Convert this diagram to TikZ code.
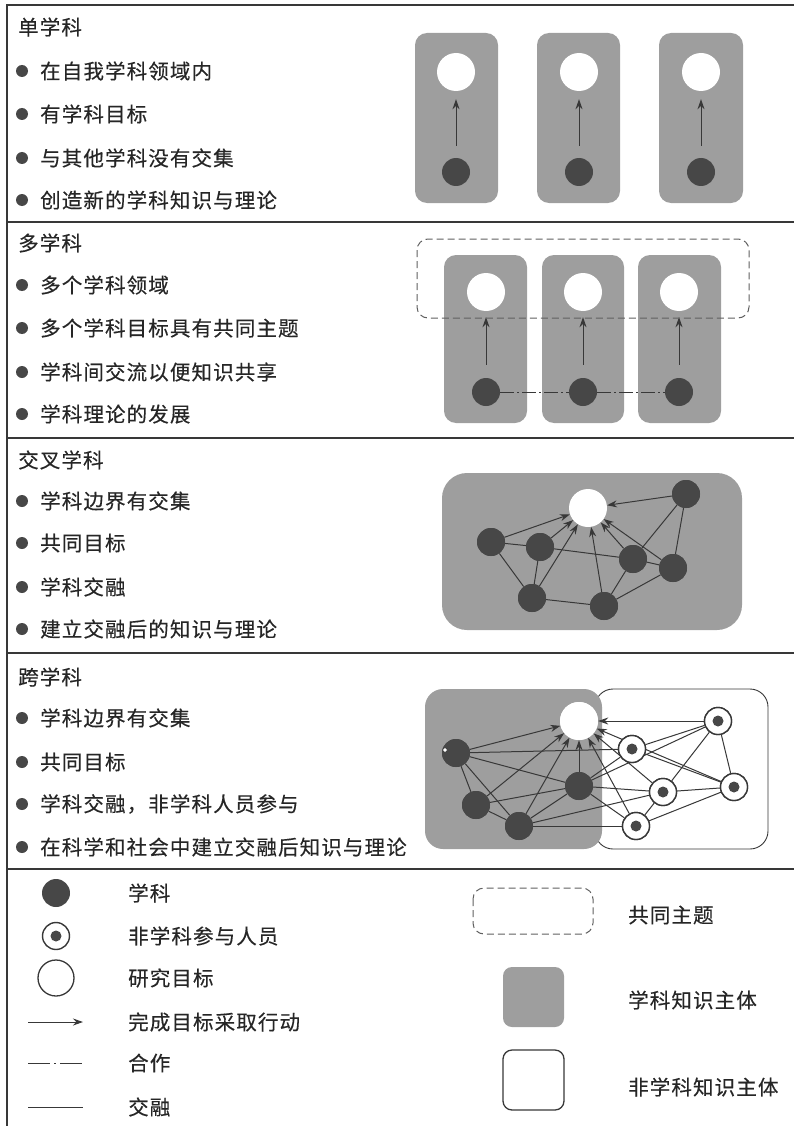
\documentclass[tikz,border=0pt]{standalone}
\usepackage{fontspec}
\setmainfont{Noto Sans CJK SC}
\newfontfamily\cjk[LetterSpace=5.5,FakeBold=0.35]{Noto Sans CJK SC}
\usetikzlibrary{arrows.meta}
\definecolor{gfill}{gray}{0.62}
\definecolor{dk}{gray}{0.28}
\definecolor{ln}{gray}{0.22}
\definecolor{tx}{gray}{0.15}
\begin{document}
\begin{tikzpicture}[x=1pt,y=-1pt,
  txt/.style={anchor=west,inner sep=0pt,text=tx,font=\cjk\fontsize{20.5}{24}\selectfont},
  bul/.style={circle,fill=dk,inner sep=0pt,minimum size=12pt},
  goal/.style={circle,fill=white,inner sep=0pt,minimum size=38pt},
  disc/.style={circle,fill=dk,inner sep=0pt,minimum size=28pt},
  part/.style={circle,fill=white,draw=ln,line width=1.4pt,inner sep=0pt,minimum size=27pt,
    path picture={\fill[dk] (path picture bounding box.center) circle (5.5pt);}},
  arr/.style={draw=ln,line width=1pt,-{Stealth[length=10pt,width=7pt]}},
  lnk/.style={draw=ln,line width=1pt},
  frame/.style={draw=ln,line width=1.8pt},
  gbox/.style={fill=gfill,rounded corners=12pt},
  cdash/.style={draw=ln,line width=1pt,dash pattern=on 14pt off 3pt on 2pt off 3pt},
  tbox/.style={draw=ln!80,line width=1pt,dash pattern=on 7pt off 4pt,rounded corners=11pt}
]
\useasboundingbox (0,0) rectangle (794,1126);

% frame and dividers
\draw[frame] (7,1126) -- (7,5) -- (794,5);
\draw[frame] (7,222) -- (794,222);
\draw[frame] (7,438) -- (794,438);
\draw[frame] (7,653) -- (794,653);
\draw[frame] (7,869) -- (794,869);

% ---------- Section 1 ----------
\node[txt] (h1) at (18,27) {单学科};
\node[bul] (b11) at (22,71) {};  \node[txt] (t11) at (40,71) {在自我学科领域内};
\node[bul] (b12) at (22,114) {}; \node[txt] (t12) at (40,114) {有学科目标};
\node[bul] (b13) at (22,158) {}; \node[txt] (t13) at (40,158) {与其他学科没有交集};
\node[bul] (b14) at (22,200) {}; \node[txt] (t14) at (40,200) {创造新的学科知识与理论};

\fill[gbox] (415,33) rectangle (498,203);
\fill[gbox] (537,33) rectangle (620,203);
\fill[gbox] (659,33) rectangle (743,203);
\foreach \i/\x in {1/456,2/579,3/701}{
  \node[goal] (sg\i) at (\x,72) {};
  \node[disc] (sd\i) at (\x,172) {};
  \draw[arr,shorten <=12pt,shorten >=8pt] (sd\i) -- (sg\i);
}

% ---------- Section 2 ----------
\node[txt] (h2) at (18,243) {多学科};
\node[bul] (b21) at (22,285) {}; \node[txt] (t21) at (40,285) {多个学科领域};
\node[bul] (b22) at (22,328) {}; \node[txt] (t22) at (40,328) {多个学科目标具有共同主题};
\node[bul] (b23) at (22,372) {}; \node[txt] (t23) at (40,372) {学科间交流以便知识共享};
\node[bul] (b24) at (22,414) {}; \node[txt] (t24) at (40,414) {学科理论的发展};

\fill[gbox] (444,255) rectangle (527,423);
\fill[gbox] (542,255) rectangle (624,423);
\fill[gbox] (638,255) rectangle (721,423);
\foreach \i/\x in {1/486,2/583,3/679}{
  \node[goal] (mg\i) at (\x,292) {};
  \node[disc] (md\i) at (\x,392) {};
  \draw[arr,shorten <=13pt,shorten >=6pt] (md\i) -- (mg\i);
}
\draw[tbox] (417,239) rectangle (749,318);
\draw[cdash] (md1) -- (md2);
\draw[cdash] (md2) -- (md3);

% ---------- Section 3 ----------
\node[txt] (h3) at (18,460) {交叉学科};
\node[bul] (b31) at (22,501) {}; \node[txt] (t31) at (40,501) {学科边界有交集};
\node[bul] (b32) at (22,543) {}; \node[txt] (t32) at (40,543) {共同目标};
\node[bul] (b33) at (22,587) {}; \node[txt] (t33) at (40,587) {学科交融};
\node[bul] (b34) at (22,629) {}; \node[txt] (t34) at (40,629) {建立交融后的知识与理论};

\fill[gfill,rounded corners=25pt] (442,473) rectangle (742,630);
\node[goal] (ig) at (588,508) {};
\node[disc] (iA) at (491,542) {};
\node[disc] (iB) at (540,547) {};
\node[disc] (iC) at (532,598) {};
\node[disc] (iD) at (604,606) {};
\node[disc] (iE) at (633,559) {};
\node[disc] (iF) at (673,568) {};
\node[disc] (iG) at (686,494) {};
\foreach \a/\b in {iA/iB,iA/iC,iB/iC,iB/iE,iC/iD,iD/iE,iD/iF,iE/iF,iE/iG,iF/iG}
  \draw[lnk] (\a) -- (\b);
\foreach \a in {iA,iB,iC,iD,iE,iF,iG}
  \draw[arr] (\a) -- (ig);
\foreach \a in {iA,iB,iC,iD,iE,iF,iG}
  \node[disc] at (\a) {};

% ---------- Section 4 ----------
\node[txt] (h4) at (18,677) {跨学科};
\node[bul] (b41) at (22,718) {}; \node[txt] (t41) at (40,718) {学科边界有交集};
\node[bul] (b42) at (22,762) {}; \node[txt] (t42) at (40,762) {共同目标};
\node[bul] (b43) at (22,804) {}; \node[txt] (t43) at (40,804) {学科交融，非学科人员参与};
\node[bul] (b44) at (22,847) {}; \node[txt] (t44) at (40,847) {在科学和社会中建立交融后知识与理论};

\filldraw[fill=white,draw=ln,line width=0.9pt,rounded corners=18pt] (595,689) rectangle (768,849);
\fill[gfill,rounded corners=18pt] (425,689) rectangle (602,849);
\node[goal] (tg) at (579,721) {};
\node[disc] (P1) at (456,753) {};
\node[disc] (P2) at (476,805) {};
\node[disc] (P3) at (519,826) {};
\node[disc] (P4) at (579,786) {};
\node[part] (Q1) at (718,721) {};
\node[part] (Q2) at (632,749) {};
\node[part] (Q3) at (663,792) {};
\node[part] (Q4) at (734,787) {};
\node[part] (Q5) at (636,826) {};
\foreach \a/\b in {P1/Q2,P1/P2,P1/P3,P1/P4,P2/P3,P2/P4,P3/P4,P3/Q3,P3/Q5,
                   P4/Q2,P4/Q1,P4/Q3,P4/Q5,Q1/Q2,Q1/Q3,Q1/Q4,Q2/Q4,Q3/Q4,Q3/Q5,Q4/Q5}
  \draw[lnk] (\a) -- (\b);
\foreach \a in {P1,P2,P3,P4,Q1,Q3,Q4,Q5}
  \draw[arr] (\a) -- (tg);
\node[goal] at (tg) {};
\foreach \a in {P1,P2,P3,P4}
  \node[disc] at (\a) {};
\foreach \a in {Q1,Q2,Q3,Q4,Q5}
  \node[part] at (\a) {};
\draw[ln,fill=white,line width=0.6pt] (445,750) circle (2.2pt);

% ---------- Legend ----------
\node[disc] (L1) at (56,893) {};
\node[txt] (lt1) at (128,893) {学科};
\node[part] (L2) at (56,936) {};
\node[txt] (lt2) at (128,936) {非学科参与人员};
\node[circle,draw=ln,line width=1.3pt,inner sep=0pt,minimum size=36pt] (L3) at (56,978) {};
\node[txt] (lt3) at (128,978) {研究目标};
\coordinate (a1) at (28,1022); \coordinate (a2) at (83,1022);
\draw[arr] (a1) -- (a2);
\node[txt] (lt4) at (128,1022) {完成目标采取行动};
\coordinate (c1) at (28,1063); \coordinate (c2) at (83,1063);
\draw[draw=ln,line width=1pt,dash pattern=on 22pt off 4pt on 2pt off 4pt] (c1) -- (c2);
\node[txt] (lt5) at (128,1063) {合作};
\coordinate (s1) at (28,1107); \coordinate (s2) at (83,1107);
\draw[lnk] (s1) -- (s2);
\node[txt] (lt6) at (128,1107) {交融};

\draw[tbox] (473,888) rectangle (593,934);
\node[txt] (rt1) at (628,915) {共同主题};
\fill[gfill,rounded corners=9pt] (503,967) rectangle (564,1027);
\node[txt] (rt2) at (628,1000) {学科知识主体};
\draw[draw=ln,line width=1.3pt,rounded corners=9pt] (503,1050) rectangle (564,1110);
\node[txt] (rt3) at (628,1087) {非学科知识主体};
\end{tikzpicture}
\end{document}
